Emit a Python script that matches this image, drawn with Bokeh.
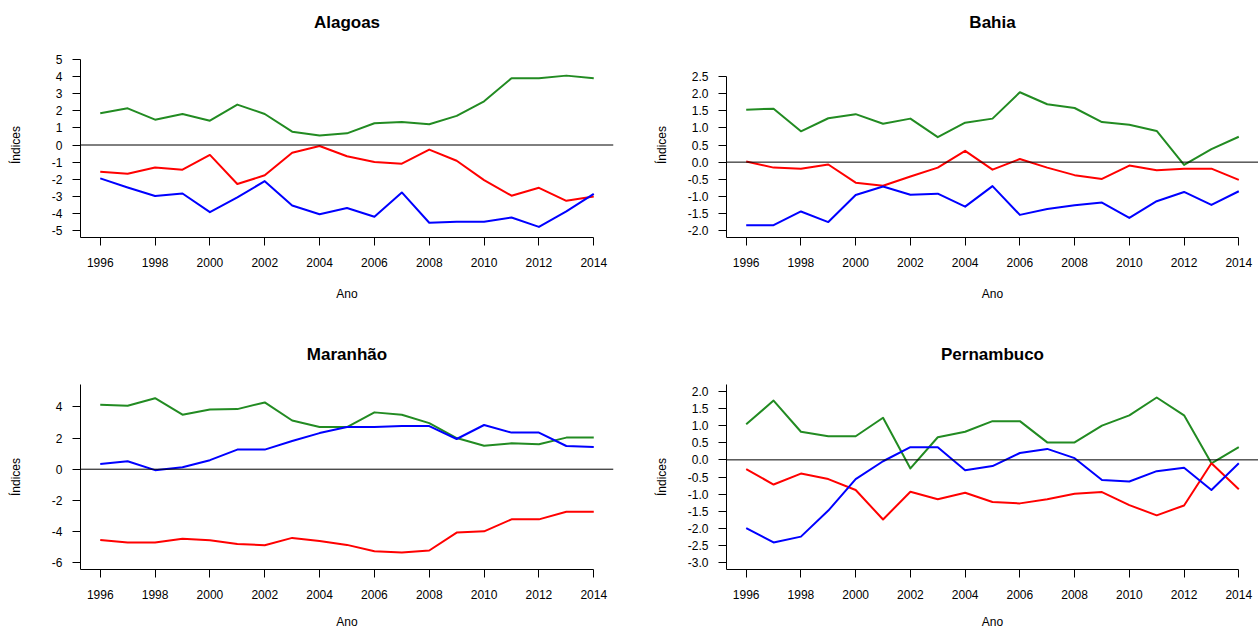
from bokeh.plotting import figure
from bokeh.layouts import column, row
from bokeh.models import Span, FixedTicker, NumeralTickFormatter, Range1d
from bokeh.embed import file_html
from bokeh.resources import INLINE

anos = list(range(1996, 2015))
anos_ticks = list(range(1996, 2015, 2))

# Alagoas
alagoas_verde = [1.85, 2.14, 1.48, 1.81, 1.42, 2.36, 1.81, 0.78, 0.55, 0.68, 1.27, 1.34, 1.21, 1.70, 2.55, 3.90, 3.90, 4.05, 3.90]
alagoas_vermelho = [-1.56, -1.68, -1.31, -1.44, -0.58, -2.28, -1.77, -0.45, -0.06, -0.66, -0.99, -1.09, -0.27, -0.92, -2.05, -2.96, -2.50, -3.26, -3.00]
alagoas_azul = [-1.95, -2.48, -2.98, -2.83, -3.92, -3.06, -2.11, -3.53, -4.04, -3.68, -4.19, -2.77, -4.54, -4.48, -4.48, -4.23, -4.78, -3.88, -2.85]
alagoas_yticks = [-5, -4, -3, -2, -1, 0, 1, 2, 3, 4, 5]

# Bahia
bahia_verde = [1.53, 1.56, 0.90, 1.28, 1.40, 1.12, 1.27, 0.73, 1.15, 1.27, 2.04, 1.69, 1.58, 1.17, 1.09, 0.91, -0.08, 0.38, 0.74]
bahia_vermelho = [0.02, -0.16, -0.19, -0.07, -0.60, -0.69, -0.42, -0.16, 0.33, -0.22, 0.09, -0.16, -0.38, -0.49, -0.10, -0.24, -0.19, -0.19, -0.52]
bahia_azul = [-1.84, -1.84, -1.44, -1.75, -0.96, -0.71, -0.95, -0.92, -1.30, -0.70, -1.54, -1.37, -1.26, -1.18, -1.63, -1.14, -0.87, -1.25, -0.85]
bahia_yticks = [-2.0, -1.5, -1.0, -0.5, 0.0, 0.5, 1.0, 1.5, 2.0, 2.5]

# Maranhão
maranhao_verde = [4.14, 4.07, 4.56, 3.50, 3.84, 3.86, 4.29, 3.13, 2.71, 2.71, 3.65, 3.50, 2.96, 2.00, 1.51, 1.66, 1.60, 2.03, 2.03]
maranhao_vermelho = [-4.54, -4.71, -4.71, -4.46, -4.56, -4.80, -4.88, -4.41, -4.61, -4.86, -5.27, -5.35, -5.22, -4.07, -3.99, -3.22, -3.22, -2.73, -2.73]
maranhao_azul = [0.34, 0.51, -0.06, 0.13, 0.58, 1.26, 1.26, 1.81, 2.32, 2.71, 2.71, 2.77, 2.77, 1.94, 2.84, 2.35, 2.35, 1.49, 1.43]
maranhao_yticks = [-6, -4, -2, 0, 2, 4]

# Pernambuco
pernambuco_verde = [1.04, 1.73, 0.82, 0.69, 0.69, 1.23, -0.25, 0.66, 0.82, 1.13, 1.13, 0.51, 0.51, 1.00, 1.30, 1.82, 1.30, -0.10, 0.37]
pernambuco_vermelho = [-0.27, -0.72, -0.40, -0.56, -0.88, -1.74, -0.93, -1.15, -0.96, -1.23, -1.27, -1.15, -0.99, -0.94, -1.32, -1.62, -1.33, -0.10, -0.86]
pernambuco_azul = [-1.99, -2.41, -2.24, -1.48, -0.56, -0.04, 0.37, 0.37, -0.30, -0.18, 0.20, 0.32, 0.05, -0.59, -0.63, -0.33, -0.23, -0.88, -0.10]
pernambuco_yticks = [-3.0, -2.5, -2.0, -1.5, -1.0, -0.5, 0.0, 0.5, 1.0, 1.5, 2.0]

FONT = "Liberation Sans"
VERDE = "#228B22"
VERMELHO = "#FF0000"
AZUL = "#0000FF"


def painel(nome, verde, vermelho, azul, yrange, yticks, yfmt, ybounds,
           width, height, bl, br, bt, bb, ylab_standoff, xlab_standoff):
    p = figure(width=width, height=height, output_backend="svg", toolbar_location=None,
               x_range=Range1d(1995.28, 2014.72), y_range=Range1d(*yrange),
               min_border_left=bl, min_border_right=br, min_border_top=bt, min_border_bottom=bb)
    # trailing empty line lifts the visible title line away from the frame
    p.title.text = nome + "\n"
    p.title.align = "center"
    p.title.vertical_align = "bottom"
    p.title.text_font = FONT
    p.title.text_font_size = "17px"
    p.title.text_font_style = "bold"
    p.title.text_color = "black"
    p.title.standoff = 4
    p.outline_line_color = None
    p.grid.visible = False
    p.background_fill_color = "white"
    p.border_fill_color = "white"

    for serie, cor in ((verde, VERDE), (vermelho, VERMELHO), (azul, AZUL)):
        p.line(anos, serie, line_color=cor, line_width=2, line_join="round")

    p.add_layout(Span(location=0, dimension="width", line_color="black", line_width=1))

    xa = p.xaxis[0]
    xa.ticker = FixedTicker(ticks=anos_ticks)
    xa.formatter = NumeralTickFormatter(format="0")
    xa.bounds = (1995.28, 2014)
    xa.axis_label = "Ano"
    ya = p.yaxis[0]
    ya.ticker = FixedTicker(ticks=yticks)
    ya.formatter = NumeralTickFormatter(format=yfmt)
    if ybounds is not None:
        ya.bounds = ybounds
    ya.axis_label = "Índices"

    for ax in (xa, ya):
        ax.axis_line_color = "black"
        ax.axis_line_width = 1
        ax.major_tick_line_color = "black"
        ax.major_tick_out = 8
        ax.major_tick_in = 0
        ax.minor_tick_line_color = None
        ax.major_label_text_font = FONT
        ax.major_label_text_font_size = "12px"
        ax.major_label_text_color = "black"
        ax.axis_label_text_font = FONT
        ax.axis_label_text_font_size = "12px"
        ax.axis_label_text_font_style = "normal"
        ax.axis_label_text_color = "black"
    xa.major_label_standoff = 12
    xa.axis_label_standoff = xlab_standoff
    ya.major_label_standoff = 10
    ya.axis_label_standoff = ylab_standoff
    return p


H_TOP = 332
H_BOT = 299
FRAME_H = 185

p1 = painel("Alagoas", alagoas_verde, alagoas_vermelho, alagoas_azul, (-5.4, 5.4),
            alagoas_yticks, "0", (-5.4, 5), 629, H_TOP, 80, 16, 52, H_TOP - 52 - FRAME_H, 26, 17)
p2 = painel("Bahia", bahia_verde, bahia_vermelho, bahia_azul, (-2.2, 3.2),
            bahia_yticks, "0.0", (-2.2, 2.5), 629, H_TOP, 97, 0, 52, H_TOP - 52 - FRAME_H, 16, 17)
p3 = painel("Maranhão", maranhao_verde, maranhao_vermelho, maranhao_azul, (-6.44, 5.44),
            maranhao_yticks, "0", None, 629, H_BOT, 80, 16, 52, H_BOT - 52 - FRAME_H, 26, 13)
p4 = painel("Pernambuco", pernambuco_verde, pernambuco_vermelho, pernambuco_azul, (-3.2, 2.2),
            pernambuco_yticks, "0.0", None, 629, H_BOT, 97, 0, 52, H_BOT - 52 - FRAME_H, 16, 13)

layout = column(row(p1, p2), row(p3, p4))

open("out.html", "w").write(file_html(layout, INLINE))
